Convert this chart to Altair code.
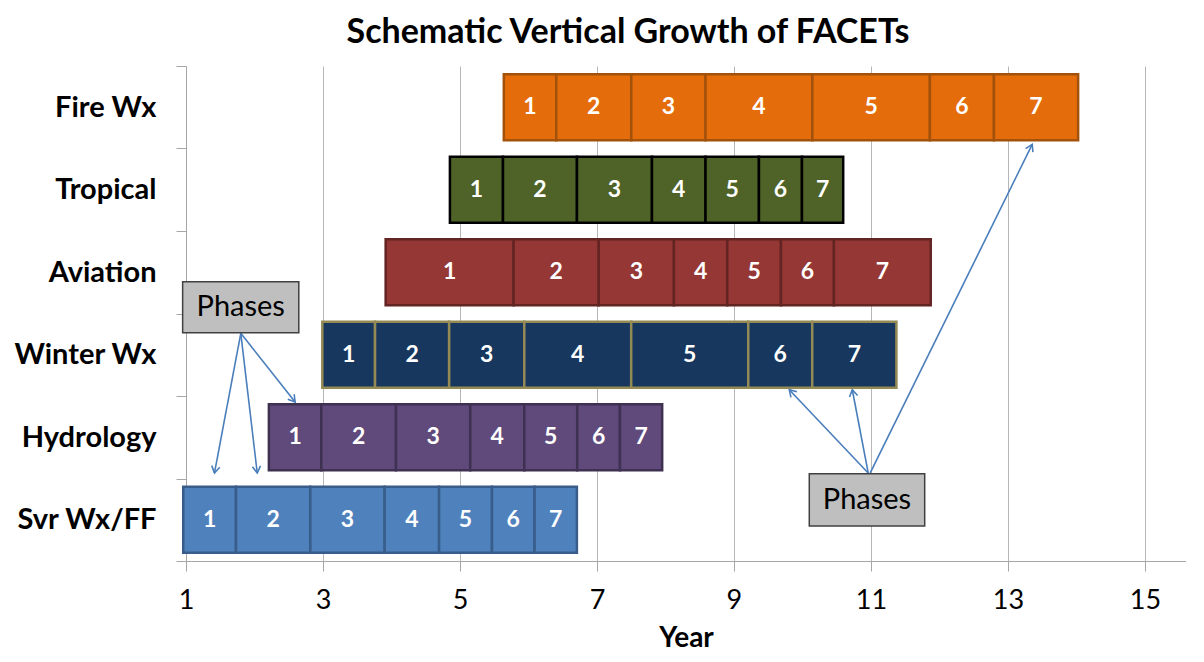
import altair as alt
import pandas as pd
import numpy as np

# ---- data ----
rows = ["Svr Wx/FF", "Hydrology", "Winter Wx", "Aviation", "Tropical", "Fire Wx"]
starts = [0.96, 2.21, 2.99, 3.915, 4.853, 5.64]
svr_phases = [0.77, 1.085, 1.085, 0.795, 0.772, 0.622, 0.618]
hydro_phases = [0.765, 1.091, 1.084, 0.789, 0.773, 0.624, 0.616]
winter_phases = [0.77, 1.082, 1.097, 1.561, 1.709, 0.934, 1.229]
aviation_phases = [1.868, 1.243, 1.098, 0.778, 0.784, 0.774, 1.413]
tropical_phases = [0.775, 1.08, 1.095, 0.782, 0.78, 0.628, 0.602]
fire_phases = [0.766, 1.095, 1.084, 1.56, 1.716, 0.935, 1.229]
phase_labels = ["1", "2", "3", "4", "5", "6", "7"]
year_ticks = [1, 3, 5, 7, 9, 11, 13, 15]

# annotation boxes ("Phases") in data units
box_x0 = [0.951, 10.10]
box_x1 = [2.647, 11.785]
box_y0 = [2.767, 0.424]
box_y1 = [3.385, 1.058]
box_text = ["Phases", "Phases"]

# arrows: start -> tip, in data units
arr_x0 = [1.80, 1.80, 1.80, 10.96, 10.96, 10.99]
arr_y0 = [2.76, 2.76, 2.76, 1.067, 1.067, 1.067]
arr_x1 = [1.416, 2.04, 2.593, 9.808, 10.728, 13.355]
arr_y1 = [1.067, 1.067, 1.927, 2.076, 2.076, 5.05]

# ---- styles ----
fills = ["#4F81BD", "#604A7B", "#17375E", "#953735", "#4F6228", "#E46C0A"]
strokes = ["#385D8A", "#3F3151", "#948A54", "#632523", "#000000", "#A3520B"]
stroke_w = [2.5, 2.5, 3, 2.5, 3, 2.5]
FONT = "Lato"
X_MIN, X_MAX = 1, 15.6
W, H = 1000, 495
PX_X = W / (X_MAX - X_MIN)
PX_Y = H / 6.0

all_phases = [svr_phases, hydro_phases, winter_phases, aviation_phases,
              tropical_phases, fire_phases]
recs = []
for i, (name, s, ph) in enumerate(zip(rows, starts, all_phases)):
    edges = np.concatenate([[s], s + np.cumsum(ph)])
    for j in range(len(ph)):
        recs.append(dict(row=name, x0=edges[j], x1=edges[j + 1],
                         xm=(edges[j] + edges[j + 1]) / 2,
                         y0=i + 0.1, y1=i + 0.9, yc=i + 0.5,
                         label=phase_labels[j]))
bars_df = pd.DataFrame(recs)

box_df = pd.DataFrame(dict(x0=box_x0, x1=box_x1, y0=box_y0, y1=box_y1,
                           xm=[(a + b) / 2 for a, b in zip(box_x0, box_x1)],
                           ym=[(a + b) / 2 for a, b in zip(box_y0, box_y1)],
                           text=box_text))

ang = []
for xa, ya, xb, yb in zip(arr_x0, arr_y0, arr_x1, arr_y1):
    dx = (xb - xa) * PX_X
    dys = -(yb - ya) * PX_Y
    ang.append(float(np.degrees(np.arctan2(dx, -dys)) % 360))
arr_df = pd.DataFrame(dict(x0=arr_x0, y0=arr_y0, x1=arr_x1, y1=arr_y1, angle=ang))

# tick at value k carries the label of band k-1 (shifted down half a band)
label_expr = "['', " + ",".join("'%s'" % r for r in rows) + "][datum.value]"

x_axis = alt.Axis(values=year_ticks, title="Year", grid=True, gridColor="#B7B7B7",
                  gridWidth=1, tickSize=10, tickColor="#A6A6A6", domainColor="#A6A6A6",
                  labelFont=FONT, labelFontSize=27, labelColor="black", labelPadding=16,
                  labelFlush=False, titleFont=FONT, titleFontSize=28,
                  titleFontWeight="bold", titleColor="black", titlePadding=11)
y_axis = alt.Axis(values=[0, 1, 2, 3, 4, 5, 6], labelExpr=label_expr, labelOffset=41,
                  tickSize=10, tickColor="#A6A6A6", domainColor="#A6A6A6", grid=False,
                  title=None, labelFont=FONT, labelFontSize=29, labelFontWeight="bold",
                  labelColor="black", labelPadding=20, labelFlush=False,
                  labelOverlap=False, minExtent=178, maxExtent=178)
x_scale = alt.Scale(domain=[X_MIN, X_MAX], nice=False, zero=False)
y_scale = alt.Scale(domain=[0, 6], nice=False, zero=False)

bars = alt.Chart(bars_df).mark_rect().encode(
    x=alt.X("x0:Q", scale=x_scale, axis=x_axis),
    x2="x1:Q",
    y=alt.Y("y0:Q", scale=y_scale, axis=y_axis),
    y2="y1:Q",
    fill=alt.Fill("row:N", scale=alt.Scale(domain=rows, range=fills), legend=None),
    stroke=alt.Stroke("row:N", scale=alt.Scale(domain=rows, range=strokes), legend=None),
    strokeWidth=alt.StrokeWidth("row:N", scale=alt.Scale(domain=rows, range=stroke_w),
                                legend=None),
)

bar_text = alt.Chart(bars_df).mark_text(
    color="white", font=FONT, fontWeight="bold", fontSize=23, baseline="middle"
).encode(
    x=alt.X("xm:Q", scale=x_scale, axis=x_axis),
    y=alt.Y("yc:Q", scale=y_scale, axis=y_axis),
    text="label:N",
)

boxes = alt.Chart(box_df).mark_rect(fill="#BFBFBF", stroke="#404040", strokeWidth=1.5).encode(
    x=alt.X("x0:Q", scale=x_scale, axis=x_axis), x2="x1:Q",
    y=alt.Y("y0:Q", scale=y_scale, axis=y_axis), y2="y1:Q",
)
box_text_l = alt.Chart(box_df).mark_text(
    color="black", font=FONT, fontSize=29, baseline="middle"
).encode(
    x=alt.X("xm:Q", scale=x_scale, axis=x_axis),
    y=alt.Y("ym:Q", scale=y_scale, axis=y_axis),
    text="text:N",
)

arrows = alt.Chart(arr_df).mark_rule(color="#4A7EBB", strokeWidth=1.6).encode(
    x=alt.X("x0:Q", scale=x_scale, axis=x_axis), x2="x1:Q",
    y=alt.Y("y0:Q", scale=y_scale, axis=y_axis), y2="y1:Q",
)
heads = alt.Chart(arr_df).mark_point(
    shape="M -0.55 0.9 L 0 0 L 0.55 0.9", filled=False, color="#4A7EBB",
    strokeWidth=1.6, size=220, opacity=1
).encode(
    x=alt.X("x1:Q", scale=x_scale, axis=x_axis),
    y=alt.Y("y1:Q", scale=y_scale, axis=y_axis),
    angle=alt.Angle("angle:Q", scale=None),
)

chart = alt.layer(bars, bar_text, arrows, heads, boxes, box_text_l).properties(
    width=W, height=H,
    padding={"left": 0, "right": 0, "top": 7, "bottom": 0},
    title=alt.TitleParams("Schematic Vertical Growth of FACETs", font=FONT, fontSize=34,
                          fontWeight="bold", color="black", anchor="middle",
                          frame="group", dx=-58, offset=16),
).configure_view(strokeWidth=0)

chart.save("out.html", embed_options={"renderer": "svg", "actions": False})
